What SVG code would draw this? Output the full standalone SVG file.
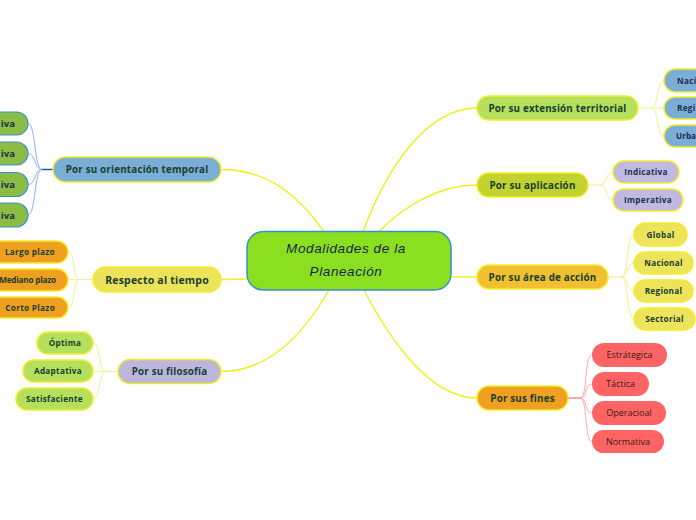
<svg xmlns="http://www.w3.org/2000/svg" width="696" height="520" viewBox="0 0 696 520">
<style>
.main{fill:none;stroke:#f2ee1c;stroke-width:1.4}
.cy{fill:none;stroke:#f4f08a;stroke-width:1}
.cb{fill:none;stroke:#93acff;stroke-width:1}
.cr{fill:none;stroke:#ffaaaa;stroke-width:1}
.p{stroke:#f2ee2a;stroke-width:1.5}
.pt{font-family:"Open Sans",sans-serif;font-weight:bold;font-size:9.8px;fill:#173f2f;text-anchor:middle;letter-spacing:0.2px}
.ct{font-family:"Open Sans",sans-serif;font-weight:bold;font-size:8.2px;fill:#173f2f;text-anchor:middle;letter-spacing:0.3px}
.cn{font-family:"Open Sans",sans-serif;font-weight:bold;font-size:8.2px;fill:#1c2f4f;text-anchor:middle;letter-spacing:0.3px}
.iv{font-family:"Open Sans",sans-serif;font-weight:bold;font-size:9.6px;fill:#1c2f4f;text-anchor:end}
.rt{font-family:"Open Sans",sans-serif;font-size:9px;fill:#3a1a1a;text-anchor:middle}
.mt{font-family:"Liberation Sans",sans-serif;font-style:italic;font-size:13.5px;fill:#1a2450;text-anchor:middle;letter-spacing:0.6px}
</style>
<g id="connectors">
<path class="main" d="M221,169.5 C270,169.5 300,198 324,231.5"/>
<path class="main" d="M221,279.5 L247,279"/>
<path class="main" d="M221,371.5 C270,371.5 305,332 329,290"/>
<path class="main" d="M477,108 C430,108 390,160 363,231.5"/>
<path class="main" d="M477,185 C440,185 405,205 379,231.5"/>
<path class="main" d="M451,277 L477,277"/>
<path class="main" d="M477,398 C430,398 390,340 364,290"/>
<path d="M53,169.5 H42" fill="none" stroke="#2050d0" stroke-width="1.5"/>
<path class="cb" d="M42,169.5 C34,169.5 36,123.5 28,123.5"/>
<path class="cb" d="M42,169.5 C34,169.5 36,153.5 28,153.5"/>
<path class="cb" d="M42,169.5 C34,169.5 36,184.5 28,184.5"/>
<path class="cb" d="M42,169.5 C34,169.5 36,215 28,215"/>
<path class="cy" d="M93,279.5 H80"/>
<path class="cy" d="M80,279.5 C72,279.5 76,252 68,252"/>
<path class="cy" d="M80,279.5 H68"/>
<path class="cy" d="M80,279.5 C72,279.5 76,307.5 68,307.5"/>
<path class="cy" d="M118,371.5 H106"/>
<path class="cy" d="M106,371.5 C98,371.5 101,343 93,343"/>
<path class="cy" d="M106,371.5 H93"/>
<path class="cy" d="M106,371.5 C98,371.5 101,399 93,399"/>
<path class="cy" d="M638,108 H651"/>
<path class="cy" d="M651,108 C659,108 656,80.5 664,80.5"/>
<path class="cy" d="M651,108 H664"/>
<path class="cy" d="M651,108 C659,108 656,136 664,136"/>
<path class="cy" d="M588,185 H600"/>
<path class="cy" d="M600,185 C608,185 605,172 613,172"/>
<path class="cy" d="M600,185 C608,185 605,200 613,200"/>
<path class="cy" d="M608,277 H621"/>
<path class="cy" d="M621,277 C629,277 626,234.5 634,234.5"/>
<path class="cy" d="M621,277 C629,277 626,263 634,263"/>
<path class="cy" d="M621,277 C629,277 626,291 634,291"/>
<path class="cy" d="M621,277 C629,277 626,319 634,319"/>
<path d="M568,398 H580" fill="none" stroke="#f07070" stroke-width="1.2"/>
<path class="cr" d="M580,398 C588,398 584,355 592,355"/>
<path class="cr" d="M580,398 C588,398 584,384 592,384"/>
<path class="cr" d="M580,398 C588,398 584,413 592,413"/>
<path class="cr" d="M580,398 C588,398 584,441.5 592,441.5"/>
</g>
<g id="central">
<rect x="247" y="231.5" width="204" height="58.5" rx="16" fill="#8ae01f" stroke="#3a8fd0" stroke-width="1.5"/>
<text class="mt" x="346" y="253">Modalidades de la</text>
<text class="mt" x="346" y="276">Planeación</text>
</g>
<g id="orientacion">
<rect class="p" x="53" y="157" width="168" height="25" rx="12.5" fill="#7aaed6"/>
<text class="pt" x="137" y="173">Por su orientación temporal</text>
</g>
<g id="or1"><rect x="-40" y="112" width="68" height="23" rx="11.5" fill="#8bbd45" stroke="#3d8fd0" stroke-width="1.2"/><text class="iv" x="15" y="127">iva</text></g>
<g id="or2"><rect x="-40" y="142" width="68" height="23" rx="11.5" fill="#8bbd45" stroke="#3d8fd0" stroke-width="1.2"/><text class="iv" x="15" y="157">iva</text></g>
<g id="or3"><rect x="-40" y="172.5" width="68" height="24" rx="12" fill="#8bbd45" stroke="#3d8fd0" stroke-width="1.2"/><text class="iv" x="15" y="188">iva</text></g>
<g id="or4"><rect x="-40" y="203" width="68" height="24" rx="12" fill="#8bbd45" stroke="#3d8fd0" stroke-width="1.2"/><text class="iv" x="15" y="218.5">iva</text></g>
<g id="tiempo">
<rect class="p" x="93" y="267" width="128" height="25" rx="12.5" fill="#ece35a"/>
<text class="pt" x="157" y="283.5" style="font-size:10.5px">Respecto al tiempo</text>
</g>
<g id="largo"><rect class="p" x="-10" y="241" width="78" height="22" rx="11" fill="#f0a020"/><text class="ct" x="55" y="255" style="text-anchor:end">Largo plazo</text></g>
<g id="mediano"><rect class="p" x="-20" y="269" width="88" height="22" rx="11" fill="#f0a020"/><text class="ct" x="56" y="283" style="text-anchor:end;letter-spacing:-0.2px">Mediano plazo</text></g>
<g id="corto"><rect class="p" x="-10" y="297" width="78" height="21" rx="10.5" fill="#f0a020"/><text class="ct" x="55" y="310.5" style="text-anchor:end">Corto Plazo</text></g>
<g id="filosofia">
<rect class="p" x="118" y="359.5" width="103" height="24" rx="12" fill="#bcb6dc"/>
<text class="pt" x="169.5" y="375">Por su filosofía</text>
</g>
<g id="optima"><rect class="p" x="37" y="332" width="56" height="22" rx="11" fill="#b4e05e"/><text class="ct" x="65" y="346">Óptima</text></g>
<g id="adaptativa"><rect class="p" x="23" y="360" width="70" height="22" rx="11" fill="#b4e05e"/><text class="ct" x="58" y="374">Adaptativa</text></g>
<g id="satisfaciente"><rect class="p" x="16" y="388" width="77" height="22" rx="11" fill="#b4e05e"/><text class="ct" x="54.5" y="402">Satisfaciente</text></g>
<g id="extension">
<rect class="p" x="477" y="96" width="161" height="24" rx="12" fill="#b4e05e"/>
<text class="pt" x="557.5" y="111.5">Por su extensión territorial</text>
</g>
<g id="naci"><rect class="p" x="664" y="69" width="60" height="23" rx="11.5" fill="#7aaed6"/><text class="cn" x="677" y="83.5" style="text-anchor:start">Naci</text></g>
<g id="regi"><rect class="p" x="664" y="97" width="60" height="22" rx="11" fill="#7aaed6"/><text class="cn" x="677" y="111" style="text-anchor:start">Regi</text></g>
<g id="urba"><rect class="p" x="664" y="125" width="60" height="22" rx="11" fill="#7aaed6"/><text class="cn" x="676" y="139" style="text-anchor:start;letter-spacing:0">Urba</text></g>
<g id="aplicacion">
<rect class="p" x="477" y="173" width="111" height="24" rx="12" fill="#c2d22e"/>
<text class="pt" x="532.5" y="188.5">Por su aplicación</text>
</g>
<g id="indicativa"><rect class="p" x="613" y="161" width="66" height="22" rx="11" fill="#c0bae0"/><text class="cn" x="646" y="175">Indicativa</text></g>
<g id="imperativa"><rect class="p" x="613" y="189" width="70" height="22" rx="11" fill="#c0bae0"/><text class="cn" x="648" y="203">Imperativa</text></g>
<g id="area">
<rect class="p" x="477" y="265" width="131" height="24" rx="12" fill="#f0c030"/>
<text class="pt" x="542.5" y="280.5">Por su área de acción</text>
</g>
<g id="global"><rect class="p" x="634" y="223" width="53" height="23" rx="11.5" fill="#ede45c"/><text class="ct" x="660.5" y="237.5">Global</text></g>
<g id="nacional"><rect class="p" x="634" y="252" width="59" height="22" rx="11" fill="#ede45c"/><text class="ct" x="663.5" y="266">Nacional</text></g>
<g id="regional"><rect class="p" x="634" y="280" width="59" height="22" rx="11" fill="#ede45c"/><text class="ct" x="663.5" y="294">Regional</text></g>
<g id="sectorial"><rect class="p" x="634" y="308" width="61" height="22" rx="11" fill="#ede45c"/><text class="ct" x="664.5" y="322">Sectorial</text></g>
<g id="fines">
<rect class="p" x="477" y="386" width="91" height="24" rx="12" fill="#f0a020"/>
<text class="pt" x="522.5" y="401.5">Por sus fines</text>
</g>
<g id="estrategica"><rect x="592" y="343" width="75" height="24" rx="12" fill="#ff6464"/><text class="rt" x="629.5" y="358">Estrátegica</text></g>
<g id="tactica"><rect x="592" y="372" width="57" height="24" rx="12" fill="#ff6464"/><text class="rt" x="620.5" y="387">Táctica</text></g>
<g id="operacioal"><rect x="592" y="401" width="74" height="24" rx="12" fill="#ff6464"/><text class="rt" x="629" y="416">Operacioal</text></g>
<g id="normativa"><rect x="592" y="430" width="72" height="23" rx="11.5" fill="#ff6464"/><text class="rt" x="628" y="444.5">Normativa</text></g>
</svg>
